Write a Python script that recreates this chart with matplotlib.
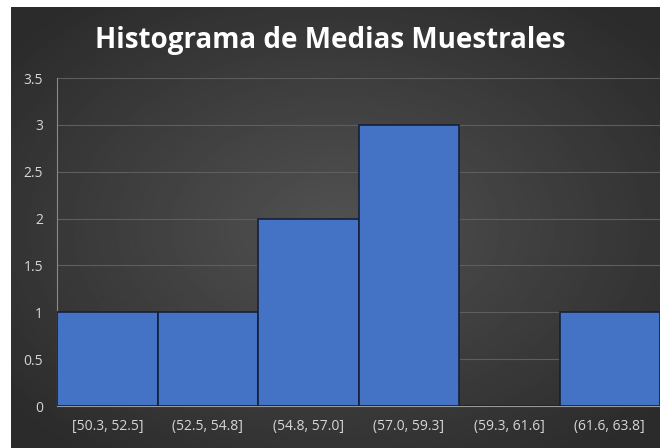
import matplotlib.pyplot as plt
import numpy as np

categories = ["[50.3, 52.5]", "(52.5, 54.8]", "(54.8, 57.0]", "(57.0, 59.3]", "(59.3, 61.6]", "(61.6, 63.8]"]
counts = [1, 1, 2, 3, 0, 1]
yticks = [0, 0.5, 1, 1.5, 2, 2.5, 3, 3.5]
ytick_labels = ["0", "0.5", "1", "1.5", "2", "2.5", "3", "3.5"]

plt.rcParams['font.family'] = ['Open Sans', 'DejaVu Sans']

fig = plt.figure(figsize=(6.6, 4.48), dpi=100)
fig.patch.set_facecolor("white")

# dark radial background, leaving a thin white strip on top and left
bg = fig.add_axes([11 / 660, 0, 649 / 660, 441 / 448], zorder=-10)
yy, xx = np.mgrid[-1:1:200j, -1:1:300j]
r = np.sqrt(xx ** 2 + yy ** 2)
bg.imshow(0.32 - 0.15 * np.clip(r / 1.3, 0, 1), cmap="gray", vmin=0, vmax=1,
          aspect="auto", extent=[0, 1, 0, 1])
bg.set_axis_off()

ax = fig.add_axes([57 / 660, 42 / 448, 603 / 660, 328 / 448])
ax.patch.set_alpha(0)
x = np.arange(len(categories))
ax.bar(x, counts, width=1.0, color="#4472C4", edgecolor="#14203a", linewidth=1.2, zorder=3)

ax.set_xlim(-0.5, len(categories) - 0.5)
ax.set_ylim(0, 3.5)
ax.set_yticks(yticks)
ax.set_yticklabels(ytick_labels)
ax.set_xticks(x)
ax.set_xticklabels(categories)
ax.tick_params(axis="both", length=0, colors="#d6d6d6", labelsize=10)
ax.tick_params(axis="x", pad=9)
ax.tick_params(axis="y", pad=10)
ax.grid(axis="y", color="#5e5e5e", linewidth=0.8, zorder=0)
for s in ["top", "right"]:
    ax.spines[s].set_visible(False)
ax.spines["left"].set_color("#8a8a8a")
ax.spines["bottom"].set_color("#9a9a9a")

fig.text(0.5, 0.91, "Histograma de Medias Muestrales", ha="center", va="center",
         color="white", fontsize=20, fontweight="bold")

fig.savefig("out.png", dpi=100, facecolor=fig.get_facecolor())
